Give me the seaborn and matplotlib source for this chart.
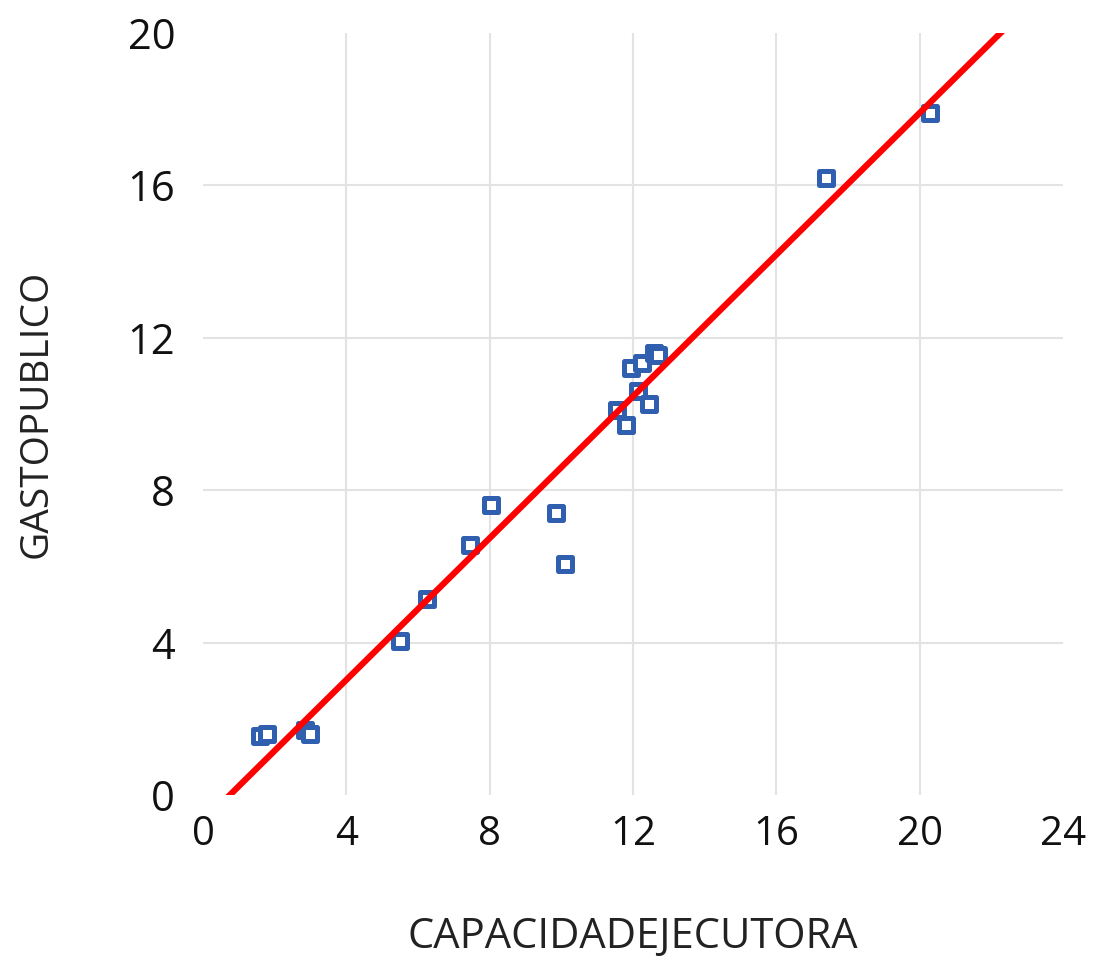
import numpy as np
import pandas as pd
import matplotlib
matplotlib.use("Agg")
import matplotlib.pyplot as plt
import seaborn as sns

# datos
capacidad = [1.6, 1.8, 2.85, 3.0, 5.5, 6.25, 7.45, 8.05, 9.85, 10.1,
             11.55, 11.8, 11.95, 12.25, 12.15, 12.45, 12.6, 12.7, 17.4, 20.3]
gasto = [1.55, 1.6, 1.7, 1.6, 4.05, 5.15, 6.55, 7.6, 7.4, 6.05,
         10.1, 9.7, 11.2, 11.35, 10.6, 10.25, 11.6, 11.55, 16.2, 17.9]

# recta de tendencia
pendiente = 0.93
intercepto = -0.70

x_ticks = [0, 4, 8, 12, 16, 20, 24]
y_ticks = [0, 4, 8, 12, 16, 20]

df = pd.DataFrame({"CAPACIDADEJECUTORA": capacidad, "GASTOPUBLICO": gasto})

sns.set_style("white")
plt.rcParams["font.family"] = ["Open Sans", "DejaVu Sans"]

fig = plt.figure(figsize=(10.97, 9.63), dpi=100)
ax = fig.add_axes([0.185, 0.1745, 0.784, 0.7913])

sns.scatterplot(data=df, x="CAPACIDADEJECUTORA", y="GASTOPUBLICO", ax=ax,
                marker="s", s=95, facecolor="white", edgecolor="#2F5FAE",
                linewidth=3.6, zorder=3)

xl = np.array([0, 24])
ax.plot(xl, pendiente * xl + intercepto, color="red", lw=4.5, zorder=4)

ax.set_xlim(0, 24)
ax.set_ylim(0, 20)
ax.set_xticks(x_ticks)
ax.set_yticks(y_ticks)
ax.grid(True, color="#e3e3e3", lw=1.5)
ax.set_axisbelow(True)
# sin lineas de cuadricula en los bordes
for g in [ax.xaxis.get_gridlines()[0], ax.xaxis.get_gridlines()[-1],
          ax.yaxis.get_gridlines()[0], ax.yaxis.get_gridlines()[-1]]:
    g.set_visible(False)
sns.despine(ax=ax, left=True, bottom=True)

ax.tick_params(axis="both", length=0, colors="#111111")
ax.tick_params(axis="x", pad=14, labelsize=29)
ax.tick_params(axis="y", pad=20, labelsize=30)
ax.set_xlabel("CAPACIDADEJECUTORA", fontsize=30, color="#222222", labelpad=44)
ax.set_ylabel("GASTOPUBLICO", fontsize=28, color="#222222", labelpad=52)

fig.savefig("out.png", dpi=100)
